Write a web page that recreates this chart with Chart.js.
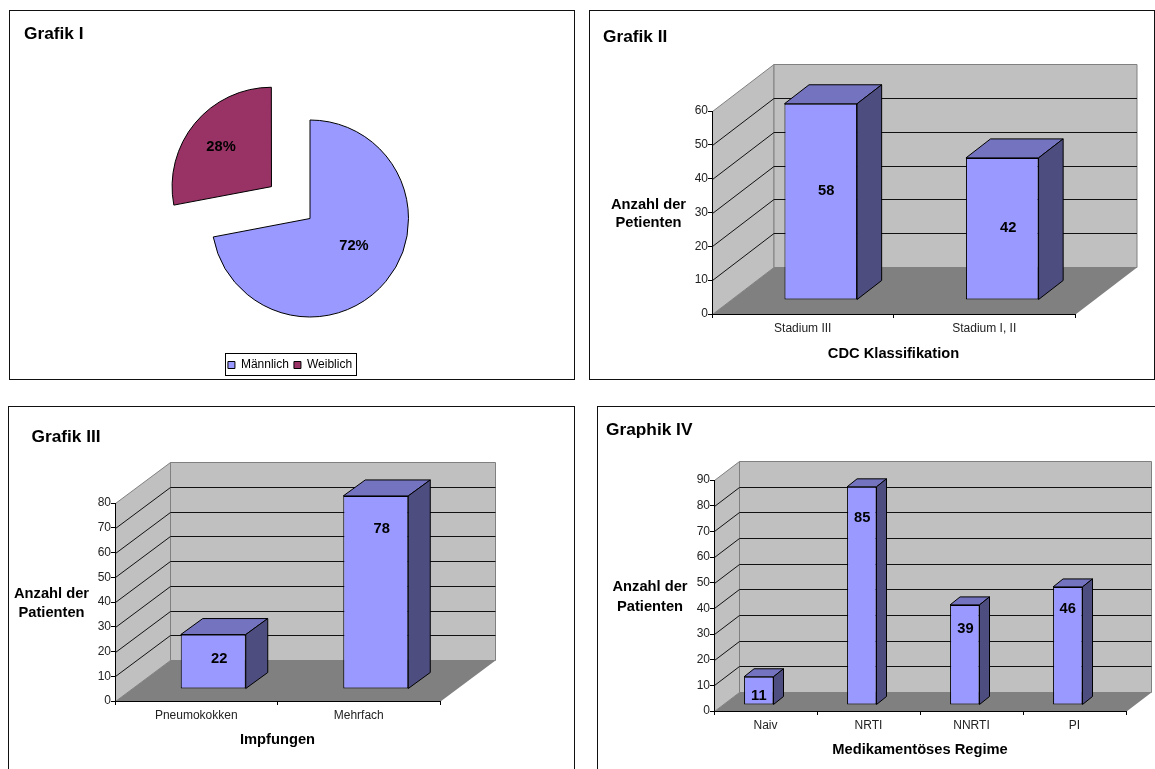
<!DOCTYPE html>
<html lang="de">
<head>
<meta charset="utf-8">
<title>Patientenkollektiv</title>
<script src="https://cdn.jsdelivr.net/npm/chart.js@4"></script>
<style>
  html, body { margin: 0; padding: 0; background: #fff; width: 1155px; height: 769px; overflow: hidden; }
  .frame { position: absolute; box-sizing: border-box; border: 1px solid #111; background: #fff; }
  canvas { position: absolute; display: block; }
</style>
</head>
<body>
<script>
// Patient counts per figure
const sexLabels = ['Männlich', 'Weiblich'];
const sexShares = [72, 28];

const stageLabels = ['Stadium III', 'Stadium I, II'];
const stageCounts = [58, 42];

const vaccineLabels = ['Pneumokokken', 'Mehrfach'];
const vaccineCounts = [22, 78];

const regimenLabels = ['Naiv', 'NRTI', 'NNRTI', 'PI'];
const regimenCounts = [11, 85, 39, 46];

const FONT = "'Liberation Sans', Arial, sans-serif";
const BAR_FRONT = '#9999ff', BAR_TOP = '#7373bf', BAR_SIDE = '#4d4d80';
const WALL = '#c0c0c0', FLOOR = '#808080', EDGE = '#808080';
const DEPTH_START = 0.3, DEPTH_SIZE = 0.4;   // bar placement along the floor depth
const LABEL_FONT = 'bold 14.7px ' + FONT;
const HEAD_FONT = 'bold 17.3px ' + FONT;

function addPanel(box, noBorder) {
  const frame = document.createElement('div');
  frame.className = 'frame';
  Object.assign(frame.style, {
    left: box.x + 'px', top: box.y + 'px', width: box.w + 'px', height: box.h + 'px'
  });
  (noBorder || []).forEach(side => { frame.style['border' + side] = 'none'; });
  document.body.appendChild(frame);
  const canvas = document.createElement('canvas');
  canvas.width = box.w;
  canvas.height = box.h;
  canvas.style.left = box.x + 'px';
  canvas.style.top = box.y + 'px';
  document.body.appendChild(canvas);
  return canvas;
}

function drawTexts(ctx, box, texts, font) {
  ctx.save();
  ctx.fillStyle = '#000';
  ctx.textBaseline = 'middle';
  texts.forEach(t => {
    ctx.font = t.font || font;
    ctx.textAlign = t.align || 'center';
    ctx.fillText(t.text, t.x - box.x, t.y - box.y);
  });
  ctx.restore();
}

function poly(ctx, pts, fill, stroke) {
  ctx.beginPath();
  pts.forEach((p, i) => i ? ctx.lineTo(p[0], p[1]) : ctx.moveTo(p[0], p[1]));
  ctx.closePath();
  if (fill) { ctx.fillStyle = fill; ctx.fill(); }
  if (stroke) { ctx.strokeStyle = stroke; ctx.lineWidth = 1; ctx.stroke(); }
}

// Draws walls, floor and gridlines behind the axes, and gives each bar a top and a side face.
function boxPlugin(cfg) {
  const dx = cfg.depth.x, dy = cfg.depth.y;
  const sx = Math.round(dx * DEPTH_START), sy = Math.round(dy * DEPTH_START);
  const bx = dx * DEPTH_SIZE, by = Math.round(dy * DEPTH_SIZE);
  return {
    id: 'box3d',
    beforeDraw(chart) {
      const ctx = chart.ctx, a = chart.chartArea, yScale = chart.scales.y;
      const left = Math.round(a.left) + 0.5, right = Math.round(a.right) + 0.5;
      const top = Math.round(a.top) + 0.5, bottom = Math.round(a.bottom) + 0.5;
      poly(ctx, [[left, bottom], [left, top], [left + dx, top + dy], [left + dx, bottom + dy]], WALL, EDGE);
      poly(ctx, [[left + dx, top + dy], [right + dx, top + dy], [right + dx, bottom + dy], [left + dx, bottom + dy]], WALL, EDGE);
      poly(ctx, [[left, bottom], [left + dx, bottom + dy], [right + dx, bottom + dy], [right, bottom]], FLOOR, null);
      ctx.save();
      ctx.strokeStyle = '#111';
      ctx.lineWidth = 1;
      yScale.ticks.forEach(t => {
        if (t.value === 0 || t.value === yScale.max) return;
        const y = Math.round(yScale.getPixelForValue(t.value)) + 0.5;
        ctx.beginPath();
        ctx.moveTo(left, y);
        ctx.lineTo(left + dx, y + dy);
        ctx.lineTo(right + dx, y + dy);
        ctx.stroke();
      });
      ctx.restore();
    },
    beforeDatasetDraw(chart, args) {
      const ctx = chart.ctx;
      ctx.save();
      ctx.translate(sx, sy);
      if (args.index !== 0) return;
      args.meta.data.forEach(el => {
        const l = el.x - el.width / 2, r = el.x + el.width / 2;
        poly(ctx, [[l, el.y], [l + bx, el.y + by], [r + bx, el.y + by], [r, el.y]], BAR_TOP, '#000');
        poly(ctx, [[r, el.y], [r + bx, el.y + by], [r + bx, el.base + by], [r, el.base]], BAR_SIDE, '#000');
      });
    },
    afterDatasetDraw(chart) {
      chart.ctx.restore();
    },
    afterDatasetsDraw(chart) {
      const ctx = chart.ctx;
      const values = chart.data.datasets[0].data;
      ctx.save();
      ctx.font = LABEL_FONT;
      ctx.fillStyle = '#000';
      ctx.textAlign = 'center';
      ctx.textBaseline = 'middle';
      chart.getDatasetMeta(0).data.forEach((el, i) => {
        ctx.fillText(String(values[i]), el.x + sx + cfg.labelDx[i], el.y + sy + cfg.labelDrop[i]);
      });
      ctx.restore();
    },
    afterDraw(chart) {
      drawTexts(chart.ctx, cfg.box, cfg.texts, LABEL_FONT);
    }
  };
}

function barChart(cfg) {
  const box = cfg.box, plot = cfg.plot;
  const canvas = addPanel(box, cfg.noBorder);
  const datasets = [{
    label: cfg.seriesName,
    data: cfg.values,
    backgroundColor: BAR_FRONT,
    borderColor: '#000',
    borderWidth: 1,
    borderSkipped: false,
    clip: false,
    barPercentage: 1,
    categoryPercentage: cfg.groupShare
  }];
  if (cfg.emptySeries) {
    datasets.push({ label: '', data: cfg.values.map(() => null), clip: false, barPercentage: 1, categoryPercentage: cfg.groupShare });
  }
  const yAxisW = 40;
  const xAxisH = cfg.titleY - plot.bottom + 8.8;
  return new Chart(canvas, {
    type: 'bar',
    data: { labels: cfg.labels, datasets },
    options: {
      responsive: false,
      animation: false,
      events: [],
      layout: {
        padding: {
          left: plot.left - box.x - yAxisW,
          right: box.x + box.w - plot.right,
          top: plot.top - box.y,
          bottom: box.y + box.h - plot.bottom - xAxisH
        }
      },
      scales: {
        x: {
          grid: { drawOnChartArea: false, offset: true, color: '#000', tickLength: 4 },
          border: { color: '#000' },
          ticks: { font: { family: FONT, size: 12 }, color: '#222', padding: 3, maxRotation: 0 },
          title: { display: true, text: cfg.xTitle, font: { family: FONT, size: 14.7, weight: 'bold' }, color: '#000', padding: 0 },
          afterFit(axis) { axis.height = xAxisH; }
        },
        y: {
          min: 0,
          max: cfg.yMax,
          grid: { drawOnChartArea: false, color: '#000', tickLength: 4 },
          border: { color: '#000' },
          ticks: { stepSize: 10, font: { family: FONT, size: 12 }, color: '#222', padding: 0 },
          afterFit(axis) { axis.width = yAxisW; }
        }
      },
      plugins: { legend: { display: false }, tooltip: { enabled: false } }
    },
    plugins: [boxPlugin(cfg)]
  });
}

// Figure I: pie with the smaller slice pulled out
(function () {
  const box = { x: 9, y: 10, w: 566, h: 370 };
  const canvas = addPanel(box);
  const nudges = [[6, -4], [-12.5, -8]];
  new Chart(canvas, {
    type: 'pie',
    data: {
      labels: sexLabels,
      datasets: [{
        data: sexShares,
        backgroundColor: ['#9999ff', '#993366'],
        borderColor: '#000',
        borderWidth: 1,
        offset: [0, 200],
        radius: 98.5,
        clip: false
      }]
    },
    options: {
      responsive: false,
      animation: false,
      events: [],
      layout: { padding: { left: 36, right: 0, top: 79, bottom: 5 } },
      plugins: {
        tooltip: { enabled: false },
        legend: {
          position: 'bottom',
          labels: { boxWidth: 7, boxHeight: 7, padding: 5, color: '#000', font: { family: FONT, size: 12 } }
        }
      }
    },
    plugins: [{
      id: 'pieExtras',
      // The legend sits left of the pie's centre and close to the panel's lower edge
      afterLayout(chart) {
        const lg = chart.legend;
        lg.left -= 20;
        lg.right -= 20;
        lg.top += 6;
        lg.bottom += 6;
      },
      beforeDraw(chart) {
        const ctx = chart.ctx, lg = chart.legend;
        const w = Math.round(lg.lineWidths[0]) + 2;
        const cx = (lg.left + lg.right) / 2;
        ctx.save();
        ctx.strokeStyle = '#000';
        ctx.lineWidth = 1;
        ctx.strokeRect(Math.round(cx - w / 2) + 0.5, Math.round(lg.top) - 0.5, w, 22);
        ctx.restore();
      },
      afterDatasetsDraw(chart) {
        const ctx = chart.ctx;
        ctx.save();
        ctx.font = LABEL_FONT;
        ctx.fillStyle = '#000';
        ctx.textAlign = 'center';
        ctx.textBaseline = 'middle';
        chart.getDatasetMeta(0).data.forEach((arc, i) => {
          const mid = (arc.startAngle + arc.endAngle) / 2;
          const reach = arc.outerRadius / 2 + (chart.data.datasets[0].offset[i] || 0) / 4;
          ctx.fillText(sexShares[i] + '%', arc.x + Math.cos(mid) * reach + nudges[i][0], arc.y + Math.sin(mid) * reach + nudges[i][1]);
        });
        ctx.restore();
      },
      afterDraw(chart) {
        drawTexts(chart.ctx, box, [{ text: 'Grafik I', x: 24, y: 34, align: 'left', font: HEAD_FONT }]);
      }
    }]
  });
})();

// Figure II: CDC classification
barChart({
  box: { x: 589, y: 10, w: 566, h: 370 },
  plot: { left: 712, right: 1075, top: 111, bottom: 314 },
  depth: { x: 61.5, y: -47 },
  yMax: 60,
  labels: stageLabels,
  values: stageCounts,
  seriesName: 'Patienten',
  groupShare: 0.4,
  xTitle: 'CDC Klassifikation',
  titleY: 353.5,
  labelDx: [5.5, 6],
  labelDrop: [87, 70],
  texts: [
    { text: 'Grafik II', x: 603, y: 37.5, align: 'left', font: HEAD_FONT },
    { text: 'Anzahl der', x: 648.5, y: 204.5 },
    { text: 'Petienten', x: 648.5, y: 223 }
  ]
});

// Figure III: vaccinations
barChart({
  box: { x: 8, y: 406, w: 567, h: 363 },
  noBorder: ['Bottom'],
  plot: { left: 115, right: 440, top: 503, bottom: 701 },
  depth: { x: 55, y: -41 },
  yMax: 80,
  labels: vaccineLabels,
  values: vaccineCounts,
  seriesName: 'Patienten',
  groupShare: 0.4,
  xTitle: 'Impfungen',
  titleY: 739.5,
  labelDx: [6, 6],
  labelDrop: [24.5, 33],
  texts: [
    { text: 'Grafik III', x: 31.5, y: 437, align: 'left', font: HEAD_FONT },
    { text: 'Anzahl der', x: 51.5, y: 593.5 },
    { text: 'Patienten', x: 51.5, y: 612.5 }
  ]
});

// Figure IV: treatment regimen; a second, empty series keeps the bars left of the category centre
barChart({
  box: { x: 597, y: 406, w: 558, h: 363 },
  noBorder: ['Bottom', 'Right'],
  plot: { left: 714, right: 1126, top: 480, bottom: 711 },
  depth: { x: 25, y: -19 },
  yMax: 90,
  labels: regimenLabels,
  values: regimenCounts,
  seriesName: 'Patienten',
  emptySeries: true,
  groupShare: 2 / 3.5,
  xTitle: 'Medikamentöses Regime',
  titleY: 749.5,
  labelDx: [0, 0.5, 0.7, 0],
  labelDrop: [18.7, 31.4, 24, 22.4],
  texts: [
    { text: 'Graphik IV', x: 606, y: 430.5, align: 'left', font: HEAD_FONT },
    { text: 'Anzahl der', x: 650, y: 586.5 },
    { text: 'Patienten', x: 650, y: 606.5 }
  ]
});
</script>
</body>
</html>
